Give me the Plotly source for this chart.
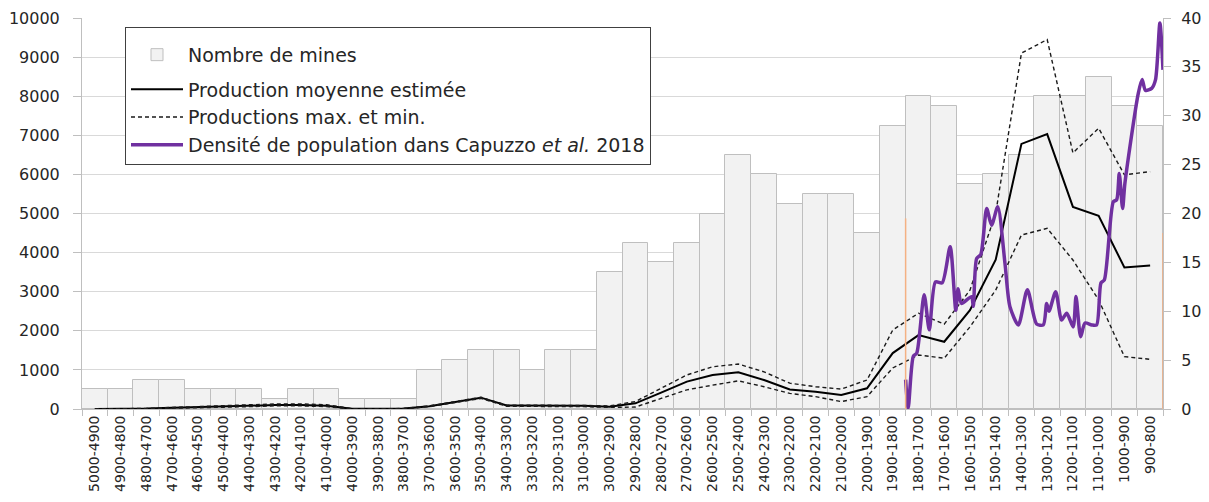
import plotly.graph_objects as go

# ---------------- data ----------------
periods = [
    "5000-4900", "4900-4800", "4800-4700", "4700-4600", "4600-4500", "4500-4400",
    "4400-4300", "4300-4200", "4200-4100", "4100-4000", "4000-3900", "3900-3800",
    "3800-3700", "3700-3600", "3600-3500", "3500-3400", "3400-3300", "3300-3200",
    "3200-3100", "3100-3000", "3000-2900", "2900-2800", "2800-2700", "2700-2600",
    "2600-2500", "2500-2400", "2400-2300", "2300-2200", "2200-2100", "2100-2000",
    "2000-1900", "1900-1800", "1800-1700", "1700-1600", "1600-1500", "1500-1400",
    "1400-1300", "1300-1200", "1200-1100", "1100-1000", "1000-900", "900-800",
]

nombre_mines = [
    500, 500, 750, 750, 500, 500, 500, 250, 500, 500, 250, 250,
    250, 1000, 1250, 1500, 1500, 1000, 1500, 1500, 3500, 4250, 3750, 4250,
    5000, 6500, 6000, 5250, 5500, 5500, 4500, 7250, 8000, 7750, 5750, 6000,
    6500, 8000, 8000, 8500, 7750, 7250,
]

production_moyenne = [
    0, 0, 10, 30, 50, 60, 80, 100, 100, 80, 5, 0,
    10, 70, 180, 290, 90, 90, 90, 80, 60, 145, 420, 700,
    870, 940, 740, 500, 440, 360, 530, 1430, 1890, 1720, 2530, 3820,
    6780, 7030, 5170, 4940, 3620, 3670,
]

production_max = [
    0, 0, 15, 40, 60, 80, 110, 130, 130, 110, 10, 0,
    15, 80, 190, 300, 100, 100, 100, 90, 80, 190, 530, 870,
    1080, 1150, 950, 660, 570, 510, 740, 2020, 2450, 2170, 3040, 5010,
    9100, 9450, 6550, 7180, 5990, 6070,
]

production_min = [
    0, 0, 5, 20, 40, 45, 60, 80, 80, 60, 0, 0,
    5, 60, 160, 270, 70, 70, 70, 60, 40, 50, 270, 490,
    610, 720, 570, 400, 315, 190, 315, 1050, 1380, 1300, 2100, 3040,
    4450, 4620, 3810, 2790, 1340, 1270,
]

# Population density (Capuzzo et al. 2018), years BCE
densite_annees = [
    1800, 1790, 1770, 1757, 1728, 1708, 1684, 1658, 1627, 1605, 1596, 1583,
    1544, 1537, 1524, 1508, 1485, 1466, 1442, 1414, 1395, 1362, 1327, 1291,
    1265, 1252, 1243, 1217, 1194, 1174, 1149, 1138, 1120, 1103, 1077, 1058,
    1041, 1028, 993, 980, 970, 957, 948, 896, 881, 868, 844, 829, 812, 800,
]
densite_valeurs = [
    3.0, 0.1, 5.4, 5.7, 11.7, 8.1, 13.0, 12.9, 16.6, 10.1, 12.3, 10.8,
    11.5, 10.5, 15.4, 15.8, 20.5, 18.8, 20.7, 14.9, 10.5, 8.6, 12.2, 8.7,
    8.6, 10.8, 10.0, 12.0, 9.1, 9.8, 8.4, 11.5, 7.4, 8.8, 8.6, 8.6,
    12.9, 13.2, 21.2, 21.4, 24.1, 20.5, 23.1, 32.3, 33.7, 32.6, 32.8, 33.7, 39.5, 34.7,
]

FONT = "DejaVu Sans"
TXT = "#262626"
AXC = "#BFBFBF"

fig = go.Figure()

fig.add_trace(go.Bar(
    x=periods, y=nombre_mines, name="Nombre de mines",
    marker=dict(color="#F2F2F2", line=dict(color="#BFBFBF", width=1)),
    legendgroup="barres",
))
fig.add_trace(go.Scatter(
    x=periods, y=production_moyenne, name="Production moyenne estimée",
    mode="lines", line=dict(color="#000000", width=2),
    legendgroup="lignes",
))
fig.add_trace(go.Scatter(
    x=periods, y=production_max, name="Productions max. et min.",
    mode="lines", line=dict(color="#1a1a1a", width=1.4, dash="4px,3px"),
    legendgroup="lignes",
))
fig.add_trace(go.Scatter(
    x=periods, y=production_min, name="Productions max. et min.",
    mode="lines", line=dict(color="#1a1a1a", width=1.4, dash="4px,3px"),
    legendgroup="lignes", showlegend=False,
))
fig.add_trace(go.Scatter(
    x=densite_annees, y=densite_valeurs,
    name="Densité de population dans Capuzzo <i>et al.</i> 2018",
    mode="lines", line=dict(color="#7030A0", width=3.5, shape="spline", smoothing=0.7),
    xaxis="x2", yaxis="y2", legendgroup="lignes",
))

# thin orange markers at the ends of the density series
for xv, y1 in [(1800, 19.5), (800, 18.0)]:
    fig.add_shape(type="line", xref="x2", yref="y2", x0=xv, x1=xv, y0=0, y1=y1,
                  line=dict(color="#F4B183", width=1.5))

fig.update_layout(
    width=1209, height=502,
    margin=dict(l=82, r=46, t=18, b=93, autoexpand=False),
    paper_bgcolor="white", plot_bgcolor="white",
    bargap=0,
    font=dict(family=FONT, color=TXT),
    showlegend=True,
    legend=dict(
        x=(125 - 82) / 1081, y=(409 - 27) / 391, xanchor="left", yanchor="top",
        bgcolor="white", bordercolor="#404040", borderwidth=1,
        font=dict(family=FONT, size=19, color=TXT),
        itemwidth=52, traceorder="grouped", tracegroupgap=7,
        title=dict(text=" ", font=dict(size=6)),
    ),
    xaxis=dict(
        type="category", categoryorder="array", categoryarray=periods,
        range=[-0.5, len(periods) - 0.5], automargin=False,
        tickangle=-90, ticks="outside", tickson="boundaries", ticklen=6,
        tickcolor=AXC, showline=True, linecolor=AXC, showgrid=False,
        tickfont=dict(family=FONT, size=14, color=TXT),
    ),
    xaxis2=dict(
        overlaying="x", anchor="y2", range=[5000, 800], visible=False,
        showgrid=False, zeroline=False, automargin=False,
    ),
    yaxis=dict(
        range=[0, 10000], dtick=1000, tickformat="d", showgrid=True, gridcolor="#D9D9D9",
        showline=True, linecolor=AXC, ticks="outside", ticklen=8, tickcolor=AXC,
        zeroline=False, tickfont=dict(family=FONT, size=16, color=TXT),
        ticklabelstandoff=10, automargin=False,
    ),
    yaxis2=dict(
        range=[0, 40], dtick=5, overlaying="y", side="right", anchor="x2",
        showgrid=False, showline=True, linecolor=AXC, ticks="outside", ticklen=7,
        tickcolor=AXC, zeroline=False, tickfont=dict(family=FONT, size=16, color=TXT),
        ticklabelstandoff=7, automargin=False,
    ),
)

fig.write_html(
    "out.html",
    config={"displayModeBar": False},
    post_script="document.body.style.margin='0';document.body.style.overflow='hidden';",
)
